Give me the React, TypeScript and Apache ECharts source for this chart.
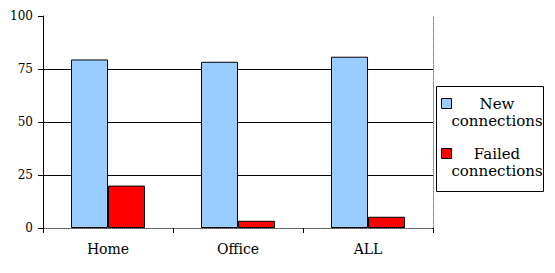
import React, { useEffect, useRef } from "react";
import * as echarts from "echarts";

const categories = ["Home", "Office", "ALL"];
const newConnections = [79.5, 78.4, 80.8];
const failedConnections = [20, 3.4, 5.3];
const yTicks = { min: 0, max: 100, interval: 25 };
const seriesNames = ["New\nconnections", "Failed\nconnections"];
const seriesColors = ["#99CCFF", "#FF0000"];

const FONT = "DejaVu Serif";

export default function App() {
  const ref = useRef<HTMLDivElement>(null);
  useEffect(() => {
    document.body.style.margin = "0";
    if (!ref.current) return;
    const chart = echarts.init(ref.current, undefined, { renderer: "svg" });

    const legendItems: any[] = [];
    const iconY = [98, 148];
    seriesNames.forEach((name, i) => {
      legendItems.push({
        type: "rect",
        shape: { x: 441.5, y: iconY[i] + 0.5, width: 10, height: 10 },
        style: { fill: seriesColors[i], stroke: "#000", lineWidth: 1 },
      });
      name.split("\n").forEach((line, j) => {
        legendItems.push({
          type: "text",
          x: 497,
          y: iconY[i] + 6 + j * 17,
          style: {
            text: line,
            x: 0,
            y: 0,
            fontSize: 15,
            fontFamily: FONT,
            fill: "#000",
            textAlign: "center",
            textVerticalAlign: "middle",
            align: "center",
            verticalAlign: "middle",
          },
        });
      });
    });

    chart.setOption({
      animation: false,
      textStyle: { fontFamily: FONT },
      grid: { left: 43, right: 122, top: 16, bottom: 45 },
      xAxis: [
        {
          type: "category",
          data: categories,
          axisLine: { lineStyle: { color: "#000", width: 1 } },
          axisTick: { show: true, length: 5, lineStyle: { color: "#000" } },
          axisLabel: { color: "#000", fontSize: 14, fontFamily: FONT, margin: 14 },
          splitLine: { show: false },
        },
        {
          type: "category",
          data: categories,
          position: "top",
          axisLine: { lineStyle: { color: "#808080", width: 1, type: "dotted" } },
          axisTick: { show: false },
          axisLabel: { show: false },
          splitLine: { show: false },
        },
      ],
      yAxis: [
        {
          type: "value",
          min: yTicks.min,
          max: yTicks.max,
          interval: yTicks.interval,
          axisLine: { show: true, lineStyle: { color: "#000", width: 1 } },
          axisTick: { show: true, length: 5, lineStyle: { color: "#000" } },
          axisLabel: { color: "#000", fontSize: 12, fontFamily: FONT, margin: 10 },
          splitLine: {
            show: true,
            showMinLine: false,
            showMaxLine: false,
            lineStyle: { color: "#000", width: 1 },
          },
        },
        {
          type: "value",
          min: yTicks.min,
          max: yTicks.max,
          interval: yTicks.interval,
          position: "right",
          axisLine: { show: true, lineStyle: { color: "#808080", width: 1, type: "dotted" } },
          axisTick: { show: false },
          axisLabel: { show: false },
          splitLine: { show: false },
        },
      ],
      series: [
        {
          name: seriesNames[0],
          type: "bar",
          data: newConnections,
          barWidth: 37,
          barGap: "0%",
          itemStyle: { color: seriesColors[0], borderColor: "#000", borderWidth: 1 },
        },
        {
          name: seriesNames[1],
          type: "bar",
          data: failedConnections,
          barWidth: 37,
          barGap: "0%",
          itemStyle: { color: seriesColors[1], borderColor: "#000", borderWidth: 1 },
        },
      ],
      graphic: [
        {
          type: "rect",
          shape: { x: 436.5, y: 86.5, width: 107, height: 105 },
          style: { fill: "#fff", stroke: "#000", lineWidth: 1 },
        },
        ...legendItems,
      ],
    });
    return () => chart.dispose();
  }, []);
  return <div ref={ref} style={{ width: 555, height: 273 }} />;
}
